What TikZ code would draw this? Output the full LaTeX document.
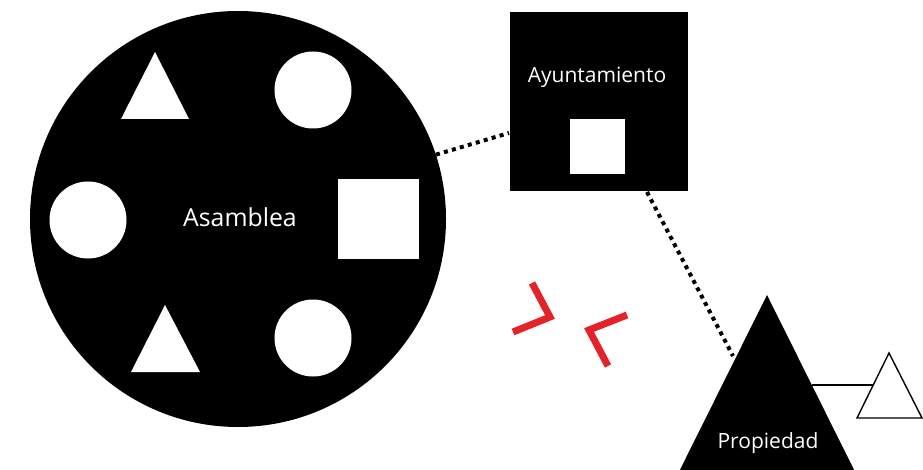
\documentclass[tikz,border=0pt]{standalone}
\usepackage{fontspec}
\setmainfont{Open Sans}
\usetikzlibrary{calc}
\definecolor{marker}{RGB}{226,35,40}
\begin{document}
\begin{tikzpicture}[x=1pt,y=-1pt,
  dots/.style={line width=4pt,dash pattern=on 4pt off 4.3pt},
  hole/.style={fill=white,draw=none,inner sep=0pt},
  bigtxt/.style={text=white,font=\fontsize{24.8}{28}\selectfont,inner sep=0pt},
  medtxt/.style={text=white,font=\fontsize{21}{24}\selectfont,inner sep=0pt},
  redmark/.style={draw=marker,line width=7pt,line join=miter},
  thin/.style={draw=black,line width=1.4pt}]
\useasboundingbox (0,0) rectangle (923,470);
% Asamblea
\node[circle,fill=black,minimum size=416pt,inner sep=0pt] (asam) at (238,219) {};
\node[bigtxt] (asamtxt) at (240,217) {Asamblea};
\fill[white] (155,52) -- (189,119) -- (121,119) -- cycle;
\node[hole,circle,minimum size=77pt] (c1) at (313,90) {};
\node[hole,circle,minimum size=77pt] (c2) at (88,220) {};
\node[hole,rectangle,minimum width=81pt,minimum height=80pt] (sq1) at (378.5,219) {};
\fill[white] (165,305) -- (200,372) -- (131,372) -- cycle;
\node[hole,circle,minimum size=77pt] (c3) at (313,338) {};
% Ayuntamiento
\node[rectangle,fill=black,minimum width=178pt,minimum height=179pt,inner sep=0pt] (ayun) at (599,101.5) {};
\node[medtxt] (ayuntxt) at (597,77) {Ayuntamiento};
\node[hole,rectangle,minimum size=55pt] (sq2) at (597.5,146.5) {};
% Propiedad
\begin{scope}
\clip (0,0) rectangle (923,470);
\fill[black] (767,295) -- (879,520) -- (655,520) -- cycle;
\end{scope}
\coordinate (propapex) at (767,295);
\node[medtxt] (proptxt) at (768,443) {Propiedad};
% small triangle
\draw[thin,fill=white,line join=miter] (889,353) -- (922,418) -- (857,418) -- cycle;
\coordinate (propR) at (812,385);
\coordinate (smallL) at (873,385);
\draw[thin,line width=1.2pt] (propR) -- (smallL);
% dotted connectors
\coordinate (ayunW) at (509,133);
\draw[dots] (asam.18) -- (ayunW);
\coordinate (ayunS) at (647,192);
\coordinate (propL) at (733,356);
\draw[dots] (ayunS) -- (propL);
% red marks
\coordinate (r1a) at (532,283);
\coordinate (r1b) at (550,317);
\coordinate (r1c) at (513,332);
\draw[redmark] (r1a) -- (r1b) -- (r1c);
\coordinate (r2a) at (627,315);
\coordinate (r2b) at (589,330);
\coordinate (r2c) at (608,366);
\draw[redmark] (r2a) -- (r2b) -- (r2c);
\end{tikzpicture}
\end{document}
